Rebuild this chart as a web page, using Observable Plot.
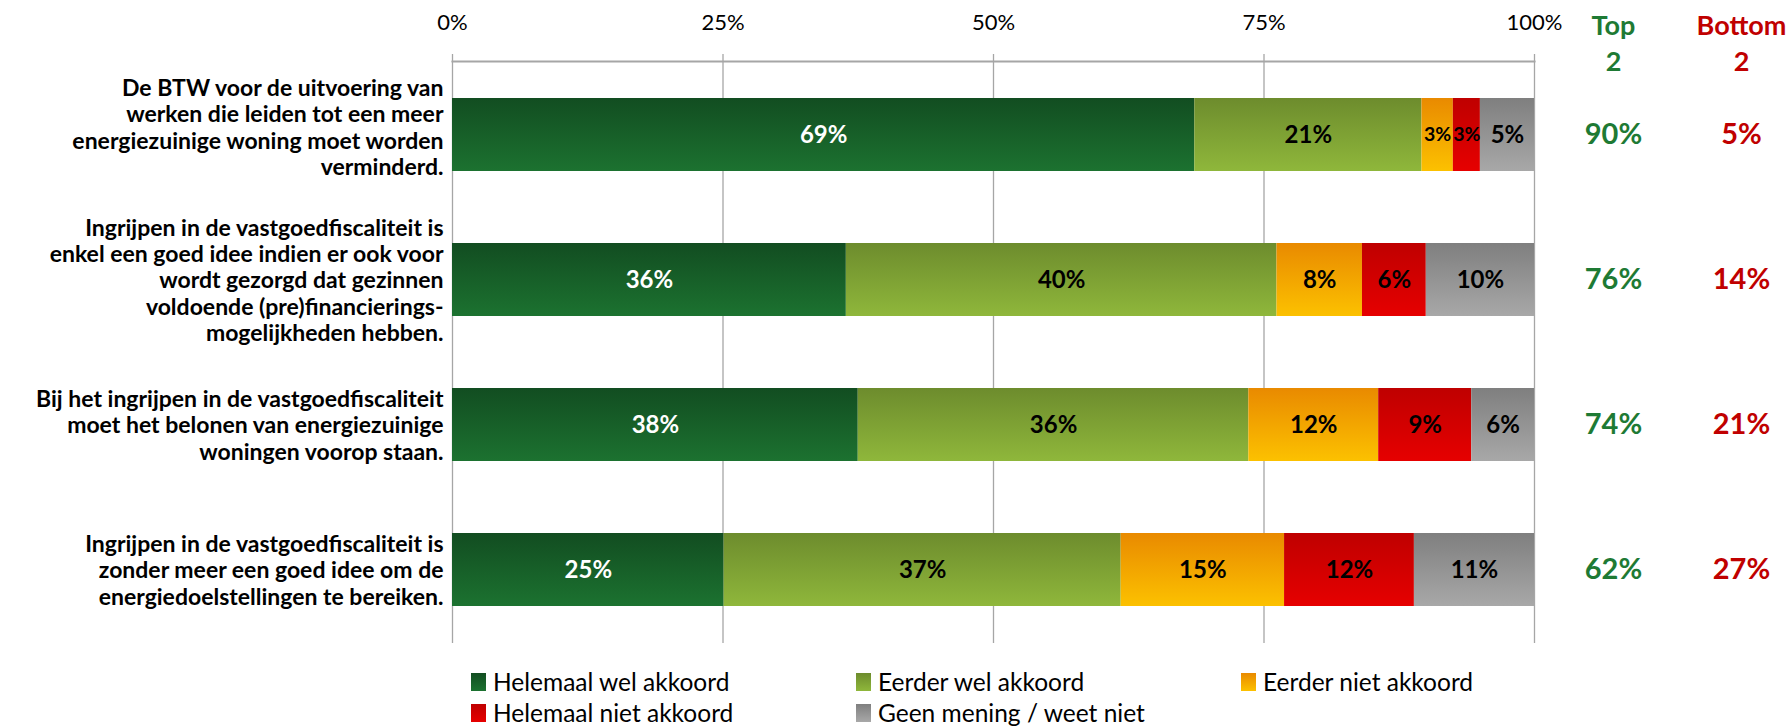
<!DOCTYPE html>
<html>
<head>
<meta charset="utf-8">
<script src="https://cdn.jsdelivr.net/npm/d3@7"></script>
<script src="https://cdn.jsdelivr.net/npm/@observablehq/plot@0.6"></script>
<style>
  html, body { margin: 0; padding: 0; background: #fff; overflow: hidden; }
  #chart { width: 1789px; height: 726px; position: relative; font-family: Lato, "Open Sans", sans-serif; }
  #legend { position: absolute; left: 471px; top: 666px; width: 1160px; display: flex; flex-wrap: wrap; }
  .item { width: 385px; height: 31px; display: flex; align-items: center; font-size: 24.5px; color: #000; }
  .sw { width: 15px; height: 18px; margin-right: 7px; flex: none; }
</style>
</head>
<body>
<div id="chart"></div>
<script>
const categories = [
  "De BTW voor de uitvoering van\nwerken die leiden tot een meer\nenergiezuinige woning moet worden\nverminderd.",
  "Ingrijpen in de vastgoedfiscaliteit is\nenkel een goed idee indien er ook voor\nwordt gezorgd dat gezinnen\nvoldoende (pre)financierings-\nmogelijkheden hebben.",
  "Bij het ingrijpen in de vastgoedfiscaliteit\nmoet het belonen van energiezuinige\nwoningen voorop staan.",
  "Ingrijpen in de vastgoedfiscaliteit is\nzonder meer een goed idee om de\nenergiedoelstellingen te bereiken."
];
const series = ["Helemaal wel akkoord", "Eerder wel akkoord", "Eerder niet akkoord", "Helemaal niet akkoord", "Geen mening / weet niet"];
const helemaalWel  = [68.6, 36.4, 37.5, 25.1];
const eerderWel    = [21.0, 39.8, 36.1, 36.7];
const eerderNiet   = [2.9, 7.9, 12.0, 15.1];
const helemaalNiet = [2.5, 5.9, 8.6, 12.0];
const geenMening   = [5.0, 10.0, 5.8, 11.1];
const top2    = [90, 76, 74, 62];
const bottom2 = [5, 14, 21, 27];
const xTicks = [0, 25, 50, 75, 100];
const gradients = [
  ["#124d21", "#1c7230"],
  ["#6d8c2d", "#8fb73b"],
  ["#e98a00", "#fcc100"],
  ["#bf0000", "#e60000"],
  ["#7f7f7f", "#a8a8a8"]
];

const seriesValues = [helemaalWel, eerderWel, eerderNiet, helemaalNiet, geenMening];
const data = [];
categories.forEach((c, i) => {
  series.forEach((s, j) => {
    data.push({category: c, series: s, idx: j, value: seriesValues[j][i]});
  });
});
const sideData = categories.map((c, i) => ({category: c, top: top2[i], bottom: bottom2[i]}));

const defsMark = () => {
  const defs = d3.create("svg:defs");
  gradients.forEach(([a, b], i) => {
    const g = defs.append("linearGradient").attr("id", "grad" + i)
      .attr("x1", 0).attr("y1", 0).attr("x2", 0).attr("y2", 1);
    g.append("stop").attr("offset", 0).attr("stop-color", a);
    g.append("stop").attr("offset", 1).attr("stop-color", b);
  });
  return defs.node();
};

const green = "#1e7a34", red = "#c00000";
const yAxisStyle = {anchor: "left", tickSize: 0, tickPadding: 9, fontSize: 23, fontWeight: "bold",
  lineHeight: 1.14, fill: "#000", label: null};

const plot = Plot.plot({
  width: 1789,
  height: 660,
  marginLeft: 452,
  marginRight: 255,
  marginTop: 61,
  marginBottom: 17,
  style: {fontFamily: "Lato, 'Open Sans', sans-serif", background: "#fff", overflow: "visible"},
  x: {domain: [0, 100]},
  y: {domain: categories, paddingInner: 0.494, paddingOuter: 0.247},
  color: {type: "identity"},
  marks: [
    defsMark,
    Plot.gridX(xTicks, {stroke: "#a6a6a6", strokeOpacity: 1, strokeWidth: 1.3}),
    Plot.frame({anchor: "top", stroke: "#a6a6a6", strokeWidth: 2}),
    Plot.axisX({anchor: "top", ticks: xTicks, tickFormat: d => d + "%", tickSize: 8, tickPadding: 24,
      stroke: "#a6a6a6", strokeWidth: 1.3, fontSize: 22, fill: "#000", label: null}),
    Plot.axisY({...yAxisStyle, ticks: categories.slice(0, 1), dy: -8}),
    Plot.axisY({...yAxisStyle, ticks: categories.slice(1)}),
    Plot.barX(data, Plot.stackX({x: "value", y: "category", fill: d => `url(#grad${d.idx})`})),
    Plot.text(data, Plot.stackX({x: "value", y: "category", text: d => Math.round(d.value) + "%",
      fill: d => d.idx === 0 ? "#ffffff" : "#000000", fontSize: d => d.value < 4 ? 19.5 : 24,
      fontWeight: "bold", letterSpacing: "-0.5px"})),
    Plot.text(["Top\n2"], {frameAnchor: "top-right", dx: 79, dy: -20, lineAnchor: "middle", lineHeight: 1.33,
      textAnchor: "middle", fill: green, fontSize: 27, fontWeight: "bold"}),
    Plot.text(["Bottom\n2"], {frameAnchor: "top-right", dx: 207, dy: -20, lineAnchor: "middle", lineHeight: 1.33,
      textAnchor: "middle", fill: red, fontSize: 27, fontWeight: "bold"}),
    Plot.text(sideData, {y: "category", frameAnchor: "right", dx: 79, textAnchor: "middle",
      text: d => d.top + "%", fill: green, fontSize: 29, fontWeight: "bold"}),
    Plot.text(sideData, {y: "category", frameAnchor: "right", dx: 207, textAnchor: "middle",
      text: d => d.bottom + "%", fill: red, fontSize: 29, fontWeight: "bold"})
  ]
});

const chart = document.getElementById("chart");
chart.appendChild(plot);

const legend = document.createElement("div");
legend.id = "legend";
series.forEach((s, j) => {
  const item = document.createElement("div");
  item.className = "item";
  const sw = document.createElement("span");
  sw.className = "sw";
  sw.style.background = `linear-gradient(to bottom, ${gradients[j][0]}, ${gradients[j][1]})`;
  const t = document.createElement("span");
  t.textContent = s;
  item.appendChild(sw);
  item.appendChild(t);
  legend.appendChild(item);
});
chart.appendChild(legend);
</script>
</body>
</html>
